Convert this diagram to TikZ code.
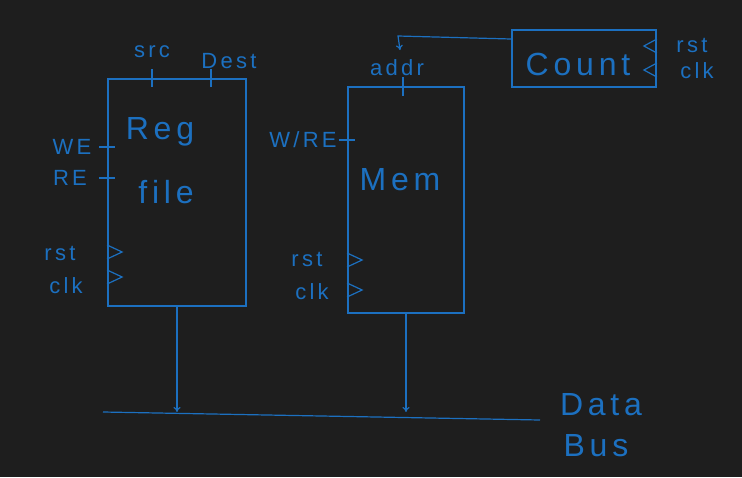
\documentclass[tikz,border=0pt]{standalone}
\usepackage{fontspec}
\setmainfont{Liberation Sans}
\newfontfamily\hand[LetterSpace=15]{Liberation Sans}
\usetikzlibrary{arrows.meta}
\definecolor{board}{RGB}{30,30,30}
\definecolor{ink}{RGB}{28,112,192}

\begin{document}
\begin{tikzpicture}[x=1pt, y=-1pt, ink, line width=1.2pt, >={To[length=5pt,width=7pt]},
    block/.style={draw, line width=1.8pt, inner sep=0pt},
    lbl/.style={text=ink, inner sep=0pt, font=\hand\fontsize{22}{22}\selectfont},
    big/.style={text=ink, inner sep=0pt, font=\hand\fontsize{32}{32}\selectfont}]
    \fill[board] (0,0) rectangle (742,477);
    \useasboundingbox (0,0) rectangle (742,477);

    % blocks
    \node[block, minimum width=138pt, minimum height=227pt] (reg) at (177,192.5) {};
    \node[block, minimum width=116pt, minimum height=226pt] (mem) at (406,200) {};
    \node[block, minimum width=144pt, minimum height=57pt] (cnt) at (584,58.5) {};
    \node[big] (regtxt) at (160,132) {Reg};
    \node[big] (filetxt) at (166,192) {file};
    \node[big] (memtxt) at (400,180) {Mem};
    \node[big] (cnttxt) at (578,64) {Count};

    % labels
    \node[lbl] (src) at (152,52) {src};
    \node[lbl] (dst) at (229,61) {Dest};
    \node[lbl] (we) at (72,147) {WE};
    \node[lbl] (re) at (70,178) {RE};
    \node[lbl] (rstA) at (60,253) {rst};
    \node[lbl] (clkA) at (66,286) {clk};
    \node[lbl] (addr) at (397,68) {addr};
    \node[lbl] (wre) at (303,140) {W/RE};
    \node[lbl] (rstB) at (307,259) {rst};
    \node[lbl] (clkB) at (312,292) {clk};
    \node[lbl] (rstC) at (692,45) {rst};
    \node[lbl] (clkC) at (697,71) {clk};
    \node[big] (data) at (601,405) {Data};
    \node[big] (bus) at (596,446) {Bus};

    % pins
    \foreach \x in {-25,34}
    \draw (reg.north) ++(\x,-9) -- ++(0,18);
    \draw (mem.north) ++(-3,-9) -- ++(0,19);
    \foreach \p in {we,re}
    \draw (reg.west |- \p) ++(-8,0) -- ++(16,0);
    \draw (mem.west) ++(-8,-60) -- ++(16,0);
    \foreach \y in {252,277}
    \draw (reg.west |- 0,\y) ++(0,-7) -- ++(15,7) -- ++(-15,7);
    \foreach \y in {260,290}
    \draw (mem.west |- 0,\y) ++(0,-7) -- ++(15,7) -- ++(-15,7);
    \foreach \y in {46,70}
    \draw (cnt.east |- 0,\y) ++(0,-7) -- ++(-13,7) -- ++(13,7);

    % connectors
    \coordinate (bend) at (398,36);
    \coordinate (busL) at (103,412);
    \coordinate (busR) at (540,420);
    \draw[->] (cnt.west |- 0,39) -- (bend) -- ++(2,14);
    \draw (busL) -- (busR);
    \draw[->] (reg.south) -- (reg.south |- busL);
    \draw[->] (mem.south) -- (mem.south |- busL);
\end{tikzpicture}
\end{document}
